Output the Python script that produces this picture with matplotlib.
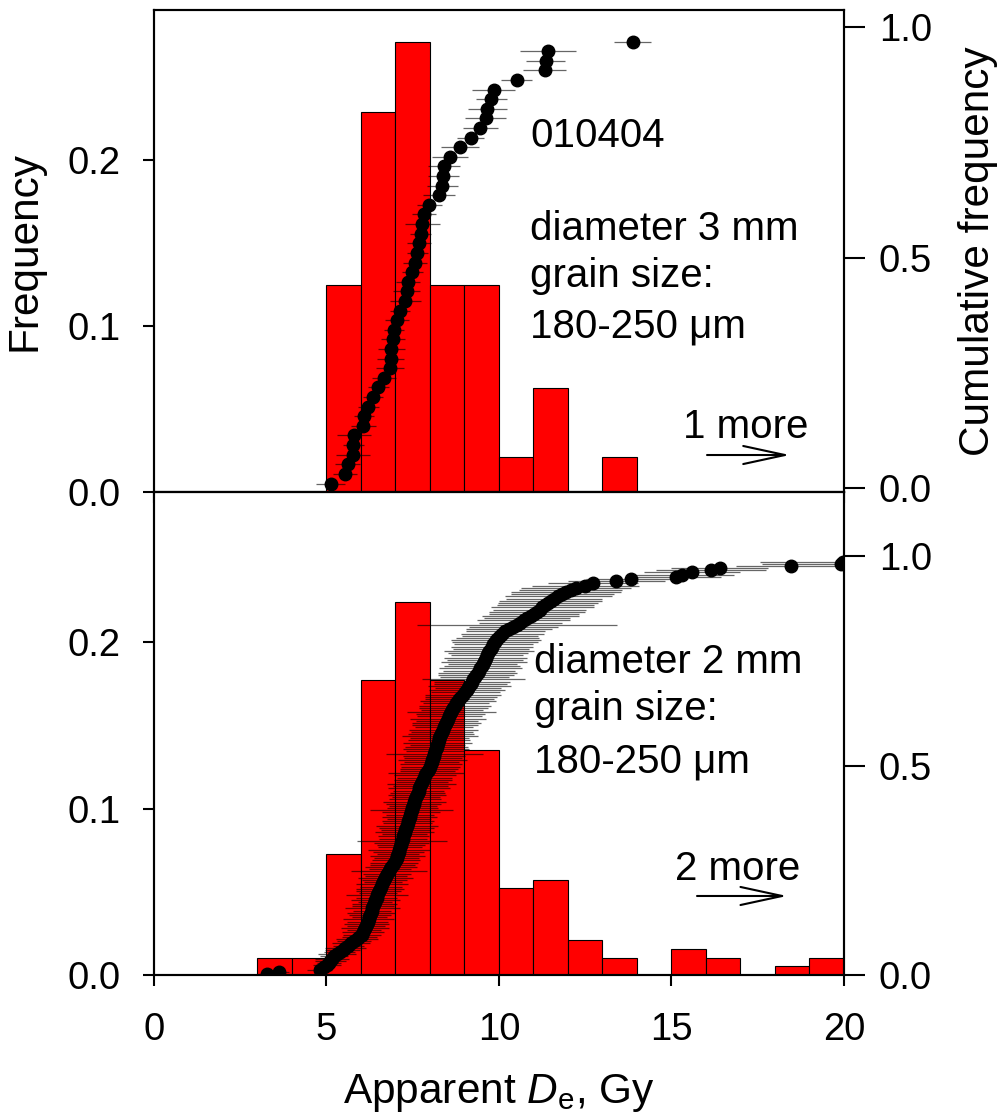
import numpy as np
import matplotlib
matplotlib.use("Agg")
import matplotlib.pyplot as plt
from matplotlib.patches import FancyArrowPatch

plt.rcParams['font.family'] = ['Liberation Sans', 'DejaVu Sans']
plt.rcParams['mathtext.fontset'] = 'custom'
plt.rcParams['mathtext.rm'] = 'Liberation Sans'
plt.rcParams['mathtext.it'] = 'Liberation Sans:italic'

# ---- data: sample 010404, 3 mm aliquots (48 aliquots, 1 beyond 20 Gy) ----
bin_left_3mm = [5, 6, 7, 8, 9, 10, 11, 12, 13]
freq_3mm = [0.125, 0.229, 0.271, 0.125, 0.125, 0.021, 0.0625, 0.0, 0.021]
n_3mm = 48
de_3mm = [5.12, 5.54, 5.61, 5.77, 5.78, 5.80, 6.07, 6.09, 6.21, 6.35,
          6.50, 6.67, 6.84, 6.86, 6.88, 6.94, 6.96, 7.05, 7.13, 7.29,
          7.32, 7.37, 7.49, 7.56, 7.63, 7.68, 7.73, 7.78, 7.82, 7.98,
          8.26, 8.35, 8.38, 8.40, 8.58, 8.87, 9.18, 9.46, 9.61, 9.66,
          9.77, 9.85, 10.51, 11.33, 11.35, 11.42, 13.87]
err_3mm = [0.43, 0.35, 0.35, 0.50, 0.30, 0.50, 0.37, 0.30, 0.30, 0.30,
           0.30, 0.35, 0.40, 0.40, 0.40, 0.35, 0.30, 0.35, 0.30, 0.45,
           0.40, 0.35, 0.30, 0.35, 0.30, 0.35, 0.30, 0.50, 0.35, 0.36,
           0.47, 0.45, 0.45, 0.47, 0.53, 0.55, 0.40, 0.50, 0.60, 0.56,
           0.45, 0.62, 0.46, 0.62, 0.56, 0.81, 0.53]

# ---- data: 2 mm aliquots (192 aliquots, 2 beyond 20 Gy) ----
bin_left_2mm = [3, 4, 5, 6, 7, 8, 9, 10, 11, 12, 13, 14, 15, 16, 17, 18, 19]
freq_2mm = [0.0104, 0.0104, 0.0729, 0.1771, 0.224, 0.1771, 0.1354, 0.0521,
            0.0573, 0.0208, 0.0104, 0.0, 0.0156, 0.0104, 0.0, 0.0052, 0.0104]
n_2mm = 192
de_2mm = [3.29, 3.62,
          4.80, 4.93,
          5.02, 5.07, 5.11, 5.16, 5.22, 5.30, 5.38, 5.47, 5.55, 5.63, 5.72, 5.80, 5.88, 5.95,
          6.02, 6.06, 6.09, 6.12, 6.14, 6.17, 6.19, 6.22, 6.24, 6.26, 6.29, 6.31, 6.33, 6.35,
          6.38, 6.40, 6.42, 6.45, 6.47, 6.50, 6.52, 6.55, 6.58, 6.61, 6.64, 6.67, 6.70, 6.73,
          6.76, 6.80, 6.84, 6.88, 6.92, 6.96,
          7.01, 7.03, 7.05, 7.07, 7.09, 7.11, 7.13, 7.15, 7.17, 7.19, 7.21, 7.23, 7.25, 7.27,
          7.29, 7.31, 7.33, 7.35, 7.37, 7.39, 7.41, 7.43, 7.45, 7.47, 7.49, 7.51, 7.53, 7.55,
          7.57, 7.60, 7.62, 7.64, 7.67, 7.69, 7.72, 7.74, 7.77, 7.80, 7.83, 7.86, 7.89, 7.93, 7.97,
          8.01, 8.03, 8.05, 8.07, 8.09, 8.11, 8.13, 8.15, 8.17, 8.19, 8.21, 8.23, 8.25, 8.27,
          8.29, 8.32, 8.35, 8.38, 8.41, 8.44, 8.47, 8.50, 8.53, 8.56, 8.59, 8.62, 8.65, 8.68,
          8.72, 8.76, 8.80, 8.85, 8.90, 8.95,
          9.02, 9.06, 9.10, 9.14, 9.18, 9.22, 9.26, 9.30, 9.34, 9.38, 9.42, 9.46, 9.50, 9.53,
          9.56, 9.59, 9.62, 9.65, 9.68, 9.72, 9.76, 9.80, 9.84, 9.88, 9.92, 9.96,
          10.04, 10.10, 10.18, 10.30, 10.42, 10.52, 10.62, 10.72, 10.82, 10.92,
          11.02, 11.10, 11.18, 11.26, 11.34, 11.42, 11.50, 11.60, 11.72, 11.84, 11.95,
          12.08, 12.23, 12.50, 12.73,
          13.40, 13.83,
          15.14, 15.31, 15.60,
          16.14, 16.40,
          18.46,
          19.92, 19.97]
err_2mm = [0.25, 0.30,
           0.35, 0.30,
           0.40, 0.35, 0.45, 0.50, 0.40, 0.55, 0.45, 0.50, 0.60, 0.45, 0.55, 0.50, 0.60, 0.50,
           0.55, 0.60, 0.50, 0.70, 0.55, 0.65, 0.60, 0.75, 0.50, 0.60, 0.70, 0.55, 0.80, 0.60,
           0.65, 0.50, 0.70, 0.60, 0.90, 0.55, 0.65, 0.70, 0.60, 0.75, 0.55, 0.65, 0.80, 0.60,
           0.70, 1.10, 0.60, 0.75, 0.65, 0.70,
           0.70, 0.65, 0.80, 0.60, 0.75, 0.90, 0.65, 0.70, 0.80, 1.30, 0.70, 0.75, 0.65, 0.85,
           0.70, 0.80, 0.90, 0.70, 0.75, 0.65, 0.80, 0.70, 0.85, 1.20, 0.75, 0.70, 0.80, 0.90,
           0.75, 0.70, 0.85, 0.80, 0.75, 0.90, 0.80, 1.00, 0.75, 0.85, 0.80, 0.90, 1.10, 0.80, 0.85,
           0.85, 0.90, 0.80, 1.00, 0.85, 0.90, 1.40, 0.85, 0.95, 0.90, 0.80, 1.00, 0.90, 0.85,
           1.10, 0.95, 0.90, 1.00, 0.85, 0.95, 1.00, 0.90, 1.10, 0.95, 1.00, 1.30, 0.90, 1.00,
           1.05, 0.95, 1.10, 1.00, 1.05, 1.10,
           1.00, 1.10, 0.95, 1.20, 1.05, 1.10, 1.50, 1.00, 1.10, 1.15, 1.05, 1.20, 1.10, 1.00,
           1.25, 1.10, 1.20, 1.05, 1.15, 1.30, 1.10, 1.20, 1.15, 1.25, 1.30, 1.20,
           1.10, 1.20, 1.15, 1.25, 1.30, 2.90, 1.20, 1.35, 1.25, 1.40,
           1.30, 1.40, 1.35, 1.50, 1.40, 1.45, 1.50, 1.40, 1.55, 1.50, 1.60,
           1.50, 1.60, 1.55, 1.30,
           1.40, 1.30,
           1.30, 1.50, 1.40,
           1.60, 1.40,
           1.60,
           2.30, 2.40]

FS = 29      # annotation text
TFS = 27.5   # tick labels
LFS = 30.5   # axis labels

fig = plt.figure(figsize=(10.05, 11.19), dpi=100)
ax_top = fig.add_axes([0.1532, 0.5603, 0.6866, 0.4307])
ax_bot = fig.add_axes([0.1532, 0.1287, 0.6866, 0.4316])


def panel(ax, bins, freq, de, err, n, right_lim):
    ax.bar(bins, freq, width=1.0, align='edge', color='#ff0000',
           edgecolor='black', linewidth=0.8, zorder=1)
    ax.set_xlim(0, 20)
    ax.set_ylim(0, 0.2904)
    ax.set_yticks([0.0, 0.1, 0.2])
    ax.set_yticklabels(['0.0', '0.1', '0.2'])
    ax.set_xticks([0, 5, 10, 15, 20])
    ax.tick_params(axis='y', direction='out', length=8, width=1.5,
                   labelsize=TFS, pad=16)
    ax.tick_params(axis='x', direction='out', length=8, width=1.5,
                   labelsize=TFS, pad=19)
    for s in ax.spines.values():
        s.set_linewidth(1.5)

    ax2 = ax.twinx()
    cum = (np.arange(1, len(de) + 1) - 0.5) / n
    ax2.errorbar(de, cum, xerr=err, fmt='none', ecolor='black',
                 elinewidth=0.9, alpha=0.6, capsize=0, zorder=2)
    ax2.plot(de, cum, 'o', color='black', markersize=9, zorder=3)
    ax2.set_ylim(right_lim[0], right_lim[1])
    ax2.set_yticks([0.0, 0.5, 1.0])
    ax2.set_yticklabels(['0.0', '0.5', '1.0'])
    ax2.tick_params(axis='y', direction='out', length=15, width=1.5,
                    labelsize=TFS, pad=10)
    for s in ax2.spines.values():
        s.set_linewidth(1.5)
    return ax2


ax2_top = panel(ax_top, bin_left_3mm, freq_3mm, de_3mm, err_3mm, n_3mm, (-0.008, 1.037))
ax2_bot = panel(ax_bot, bin_left_2mm, freq_2mm, de_2mm, err_2mm, n_2mm, (0.0, 1.153))

ax_top.set_xticklabels([])
ax_top.set_ylabel('Frequency', fontsize=LFS)
ax_top.yaxis.set_label_coords(-0.159, 0.5)
ax2_top.set_ylabel('Cumulative frequency', fontsize=LFS)
ax2_top.yaxis.set_label_coords(1.165, 0.5)
ax_bot.set_xlabel(r'Apparent $\mathit{D}_\mathrm{e}$, Gy', fontsize=LFS, labelpad=17)

# annotations, top panel
ax_top.text(10.9, 0.208, '010404', fontsize=FS, va='baseline')
ax_top.text(10.9, 0.152, 'diameter 3 mm', fontsize=FS, va='baseline')
ax_top.text(10.9, 0.1236, 'grain size:', fontsize=FS, va='baseline')
ax_top.text(10.9, 0.0929, '180-250 \u03bcm', fontsize=FS, va='baseline')
ax_top.text(15.33, 0.0326, '1 more', fontsize=FS, va='baseline')
ax_top.add_patch(FancyArrowPatch((16.03, 0.0223), (18.43, 0.0223),
                                 arrowstyle='->,head_length=3.0,head_width=0.65',
                                 mutation_scale=10, lw=1.5, color='black',
                                 shrinkA=0, shrinkB=0, zorder=5))

# annotations, bottom panel
ax_bot.text(11.01, 0.1816, 'diameter 2 mm', fontsize=FS, va='baseline')
ax_bot.text(11.01, 0.1533, 'grain size:', fontsize=FS, va='baseline')
ax_bot.text(11.01, 0.1215, '180-250 \u03bcm', fontsize=FS, va='baseline')
ax_bot.text(15.1, 0.0571, '2 more', fontsize=FS, va='baseline')
ax_bot.add_patch(FancyArrowPatch((15.74, 0.0475), (18.35, 0.0475),
                                 arrowstyle='->,head_length=3.0,head_width=0.65',
                                 mutation_scale=10, lw=1.5, color='black',
                                 shrinkA=0, shrinkB=0, zorder=5))

fig.savefig('out.png', dpi=100)
